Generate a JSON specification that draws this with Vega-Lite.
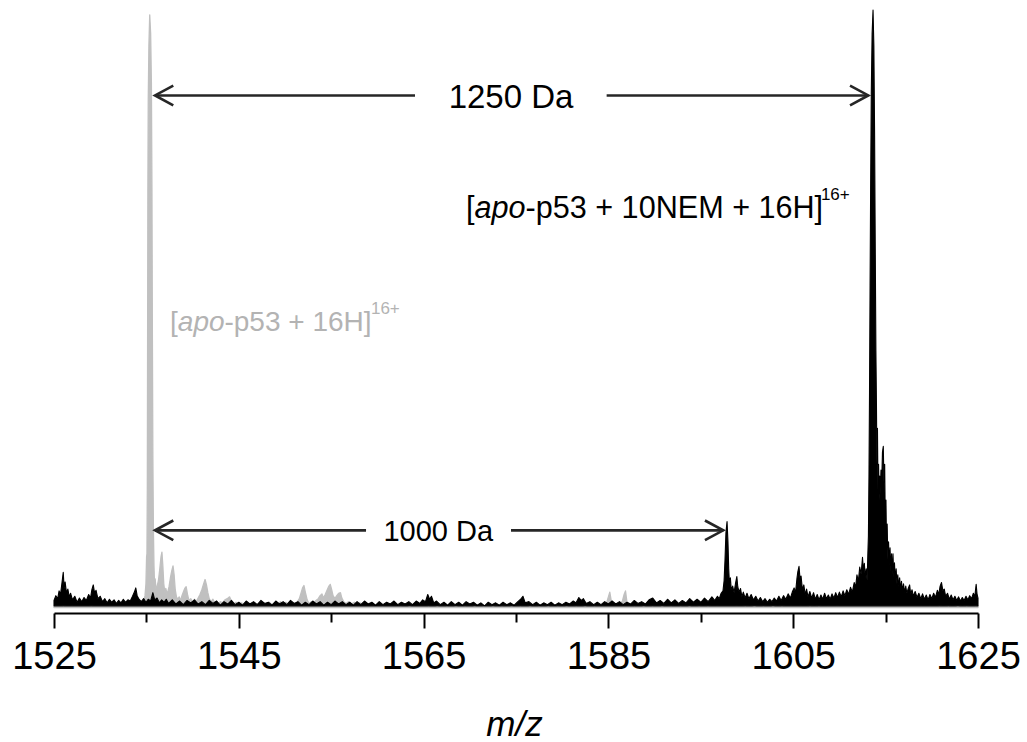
{
"$schema": "https://vega.github.io/schema/vega-lite/v6.json",
"width": 924, "height": 603,
"autosize": {"type": "none"},
"padding": {"left": 54, "top": 10, "right": 49, "bottom": 129},
"background": "white",
"config": {"view": {"stroke": null}},
"datasets": {
"black": [
{"x":1525.0,"y":1.2},{"x":1525.2,"y":2.0},{"x":1525.4,"y":1.5},{"x":1525.55,"y":2.8},{"x":1525.7,"y":2.2},{"x":1525.85,"y":4.0},{"x":1526.0,"y":5.9},{"x":1526.1,"y":3.2},{"x":1526.2,"y":4.3},{"x":1526.35,"y":2.5},{"x":1526.5,"y":3.1},{"x":1526.65,"y":1.8},{"x":1526.8,"y":2.4},{"x":1527.0,"y":1.3},{"x":1527.25,"y":1.9},{"x":1527.5,"y":0.9},{"x":1527.75,"y":1.6},{"x":1528.0,"y":1.0},{"x":1528.25,"y":1.7},{"x":1528.5,"y":1.2},{"x":1528.75,"y":2.2},{"x":1528.95,"y":1.6},{"x":1529.1,"y":3.0},{"x":1529.25,"y":3.8},{"x":1529.4,"y":2.4},{"x":1529.55,"y":2.9},{"x":1529.75,"y":1.5},{"x":1530.0,"y":1.9},{"x":1530.25,"y":1.0},{"x":1530.5,"y":1.5},{"x":1530.75,"y":0.8},{"x":1531.0,"y":1.4},{"x":1531.25,"y":0.9},{"x":1531.5,"y":1.3},{"x":1531.75,"y":0.7},{"x":1532.0,"y":1.2},{"x":1532.25,"y":0.8},{"x":1532.5,"y":1.4},{"x":1532.75,"y":0.9},{"x":1533.0,"y":1.3},{"x":1533.25,"y":1.1},{"x":1533.5,"y":1.9},{"x":1533.7,"y":2.6},{"x":1533.85,"y":3.3},{"x":1534.0,"y":2.0},{"x":1534.2,"y":1.4},{"x":1534.45,"y":1.0},{"x":1534.7,"y":1.5},{"x":1534.95,"y":0.9},{"x":1535.2,"y":1.4},{"x":1535.45,"y":1.1},{"x":1535.7,"y":2.5},{"x":1535.9,"y":1.3},{"x":1536.15,"y":1.6},{"x":1536.4,"y":0.8},{"x":1536.65,"y":1.3},{"x":1536.9,"y":0.9},{"x":1537.15,"y":1.4},
{"x":1537.4,"y":0.7},{"x":1537.8,"y":1.3},{"x":1538.2,"y":0.6},{"x":1538.6,"y":1.1},{"x":1539.0,"y":0.5},{"x":1539.4,"y":1.2},{"x":1539.8,"y":0.8},{"x":1540.2,"y":1.3},{"x":1540.6,"y":0.6},{"x":1541.0,"y":1.0},{"x":1541.4,"y":0.5},{"x":1541.8,"y":1.2},{"x":1542.2,"y":0.7},{"x":1542.6,"y":1.1},{"x":1543.0,"y":0.4},{"x":1543.4,"y":1.0},{"x":1543.8,"y":0.6},{"x":1544.2,"y":1.2},{"x":1544.6,"y":0.5},{"x":1545.0,"y":0.9},{"x":1545.4,"y":0.4},{"x":1545.8,"y":1.1},{"x":1546.2,"y":0.6},{"x":1546.6,"y":1.0},{"x":1547.0,"y":0.5},{"x":1547.4,"y":1.2},{"x":1547.8,"y":0.7},{"x":1548.2,"y":0.9},{"x":1548.6,"y":0.4},{"x":1549.0,"y":1.1},{"x":1549.4,"y":0.6},{"x":1549.8,"y":1.0},{"x":1550.2,"y":0.5},{"x":1550.6,"y":1.2},{"x":1551.0,"y":0.7},{"x":1551.4,"y":1.0},{"x":1551.8,"y":0.4},{"x":1552.2,"y":0.9},{"x":1552.6,"y":0.5},{"x":1553.0,"y":1.1},{"x":1553.4,"y":0.6},{"x":1553.8,"y":1.0},{"x":1554.2,"y":0.4},{"x":1554.6,"y":0.9},{"x":1555.0,"y":0.5},{"x":1555.4,"y":1.1},{"x":1555.8,"y":0.6},{"x":1556.2,"y":1.0},{"x":1556.6,"y":0.5},{"x":1557.0,"y":0.9},{"x":1557.4,"y":0.4},{"x":1557.8,"y":1.0},{"x":1558.2,"y":0.5},{"x":1558.6,"y":1.1},{"x":1559.0,"y":0.6},{"x":1559.4,"y":0.9},{"x":1559.8,"y":0.4},{"x":1560.2,"y":1.0},{"x":1560.6,"y":0.5},{"x":1561.0,"y":0.9},{"x":1561.4,"y":0.6},{"x":1561.8,"y":1.1},{"x":1562.2,"y":0.5},{"x":1562.6,"y":0.9},{"x":1563.0,"y":0.6},{"x":1563.4,"y":1.0},{"x":1563.8,"y":0.5},{"x":1564.2,"y":1.1},{"x":1564.6,"y":0.7},{"x":1564.9,"y":1.3},{"x":1565.2,"y":1.0},{"x":1565.45,"y":2.2},{"x":1565.65,"y":1.4},{"x":1565.85,"y":1.9},{"x":1566.1,"y":0.8},{"x":1566.4,"y":1.1},{"x":1566.8,"y":0.5},{"x":1567.2,"y":0.9},{"x":1567.6,"y":0.4},{"x":1568.0,"y":1.0},{"x":1568.4,"y":0.5},{"x":1568.8,"y":0.9},{"x":1569.2,"y":0.4},{"x":1569.6,"y":1.0},{"x":1570.0,"y":0.6},{"x":1570.4,"y":0.9},{"x":1570.8,"y":0.4},{"x":1571.2,"y":0.8},{"x":1571.6,"y":0.3},{"x":1572.0,"y":0.9},{"x":1572.4,"y":0.5},{"x":1572.8,"y":0.8},{"x":1573.2,"y":0.4},{"x":1573.6,"y":0.9},{"x":1574.0,"y":0.5},{"x":1574.4,"y":0.8},{"x":1574.8,"y":0.4},{"x":1575.2,"y":1.0},{"x":1575.5,"y":1.4},{"x":1575.75,"y":1.9},{"x":1576.0,"y":0.8},{"x":1576.4,"y":1.0},{"x":1576.8,"y":0.5},{"x":1577.2,"y":0.9},{"x":1577.6,"y":0.4},{"x":1578.0,"y":0.8},{"x":1578.4,"y":0.5},{"x":1578.8,"y":0.9},{"x":1579.2,"y":0.4},{"x":1579.6,"y":0.8},{"x":1580.0,"y":0.5},{"x":1580.4,"y":0.9},{"x":1580.8,"y":0.6},{"x":1581.2,"y":1.1},{"x":1581.5,"y":0.8},{"x":1581.8,"y":1.7},{"x":1582.05,"y":1.2},{"x":1582.3,"y":1.5},{"x":1582.6,"y":0.7},{"x":1583.0,"y":1.0},{"x":1583.4,"y":0.5},{"x":1583.8,"y":0.9},{"x":1584.2,"y":0.5},{"x":1584.6,"y":1.0},{"x":1585.0,"y":0.6},{"x":1585.4,"y":1.1},{"x":1585.8,"y":0.6},{"x":1586.2,"y":1.0},{"x":1586.6,"y":0.5},{"x":1587.0,"y":0.9},{"x":1587.4,"y":0.6},{"x":1587.8,"y":1.2},{"x":1588.2,"y":0.7},{"x":1588.6,"y":1.0},{"x":1589.0,"y":0.6},{"x":1589.4,"y":1.3},{"x":1589.8,"y":1.6},{"x":1590.2,"y":0.8},{"x":1590.6,"y":1.2},{"x":1591.0,"y":0.7},{"x":1591.4,"y":1.4},{"x":1591.8,"y":0.8},{"x":1592.2,"y":1.3},{"x":1592.6,"y":0.7},{"x":1593.0,"y":1.2},{"x":1593.4,"y":0.8},{"x":1593.8,"y":1.5},{"x":1594.2,"y":0.9},{"x":1594.6,"y":1.4},{"x":1595.0,"y":0.9},{"x":1595.4,"y":1.6},{"x":1595.8,"y":1.0},{"x":1596.2,"y":1.8},{"x":1596.5,"y":1.2},{"x":1596.8,"y":1.9},{"x":1597.0,"y":1.5},{"x":1597.2,"y":2.4},
{"x":1597.4,"y":2.8},{"x":1597.52,"y":4.5},{"x":1597.62,"y":8.0},{"x":1597.72,"y":12.5},{"x":1597.84,"y":14.4},{"x":1597.94,"y":11.0},{"x":1598.02,"y":6.5},{"x":1598.1,"y":4.0},{"x":1598.2,"y":5.0},{"x":1598.3,"y":3.0},{"x":1598.45,"y":3.6},{"x":1598.6,"y":2.5},{"x":1598.75,"y":4.0},{"x":1598.9,"y":5.2},{"x":1599.0,"y":3.5},{"x":1599.15,"y":2.6},{"x":1599.3,"y":3.2},{"x":1599.45,"y":1.8},{"x":1599.6,"y":2.6},{"x":1599.8,"y":1.6},{"x":1600.0,"y":2.4},{"x":1600.2,"y":1.5},{"x":1600.45,"y":2.2},{"x":1600.7,"y":1.3},{"x":1600.95,"y":1.9},{"x":1601.2,"y":1.1},{"x":1601.45,"y":1.7},{"x":1601.7,"y":1.0},{"x":1601.95,"y":1.5},{"x":1602.2,"y":0.9},{"x":1602.45,"y":1.4},{"x":1602.7,"y":1.0},{"x":1602.95,"y":1.6},{"x":1603.2,"y":1.1},{"x":1603.45,"y":1.9},{"x":1603.7,"y":1.2},{"x":1603.95,"y":2.0},{"x":1604.2,"y":1.4},{"x":1604.45,"y":2.3},{"x":1604.7,"y":1.6},{"x":1604.9,"y":2.6},{"x":1605.1,"y":3.3},{"x":1605.25,"y":2.5},{"x":1605.4,"y":4.8},{"x":1605.5,"y":6.0},{"x":1605.63,"y":6.9},{"x":1605.75,"y":4.6},{"x":1605.85,"y":5.3},{"x":1606.0,"y":3.0},{"x":1606.15,"y":3.8},{"x":1606.3,"y":2.2},{"x":1606.45,"y":3.1},{"x":1606.6,"y":1.8},{"x":1606.8,"y":2.7},{"x":1607.0,"y":1.6},{"x":1607.2,"y":2.5},{"x":1607.4,"y":1.4},{"x":1607.6,"y":2.2},{"x":1607.8,"y":1.3},{"x":1608.0,"y":2.1},{"x":1608.2,"y":1.4},{"x":1608.4,"y":2.4},{"x":1608.6,"y":1.5},{"x":1608.8,"y":2.1},{"x":1609.0,"y":1.4},{"x":1609.2,"y":2.3},{"x":1609.4,"y":1.6},{"x":1609.6,"y":2.5},{"x":1609.8,"y":1.7},{"x":1610.0,"y":2.6},{"x":1610.2,"y":1.8},{"x":1610.4,"y":2.8},{"x":1610.6,"y":2.0},{"x":1610.8,"y":3.0},{"x":1611.0,"y":2.2},{"x":1611.2,"y":3.4},{"x":1611.4,"y":2.6},{"x":1611.6,"y":4.2},{"x":1611.75,"y":3.4},{"x":1611.9,"y":5.5},{"x":1612.05,"y":4.4},{"x":1612.2,"y":6.8},{"x":1612.35,"y":5.6},{"x":1612.5,"y":8.4},{"x":1612.6,"y":6.2},{"x":1612.7,"y":7.4},{"x":1612.8,"y":5.0},{"x":1612.9,"y":6.5},{"x":1613.0,"y":4.5},{"x":1613.08,"y":9.0},{"x":1613.14,"y":12},{"x":1613.2,"y":22},{"x":1613.26,"y":36},{"x":1613.32,"y":54},{"x":1613.38,"y":70},{"x":1613.45,"y":86},{"x":1613.54,"y":96},{"x":1613.64,"y":100},{"x":1613.73,"y":94},{"x":1613.81,"y":79},{"x":1613.88,"y":60},{"x":1613.95,"y":43},{"x":1614.01,"y":34},{"x":1614.06,"y":24},{"x":1614.12,"y":30},{"x":1614.18,"y":19},{"x":1614.24,"y":24},{"x":1614.3,"y":18},{"x":1614.36,"y":22},{"x":1614.42,"y":19},{"x":1614.5,"y":23},{"x":1614.58,"y":21},{"x":1614.66,"y":26},{"x":1614.75,"y":27},{"x":1614.82,"y":21},{"x":1614.9,"y":24},{"x":1614.97,"y":14},{"x":1615.04,"y":18},{"x":1615.1,"y":10},{"x":1615.17,"y":14},{"x":1615.24,"y":8},{"x":1615.32,"y":11},{"x":1615.4,"y":7},{"x":1615.48,"y":10},{"x":1615.56,"y":6},{"x":1615.64,"y":9},{"x":1615.72,"y":5.5},{"x":1615.8,"y":9},{"x":1615.88,"y":5},{"x":1615.96,"y":7.5},{"x":1616.05,"y":4.5},{"x":1616.14,"y":6.5},{"x":1616.23,"y":4},{"x":1616.32,"y":5.5},{"x":1616.42,"y":3.5},{"x":1616.52,"y":5},{"x":1616.62,"y":3},{"x":1616.72,"y":4.4},{"x":1616.82,"y":2.8},{"x":1616.94,"y":4.0},{"x":1617.06,"y":2.5},{"x":1617.18,"y":3.6},{"x":1617.3,"y":2.4},{"x":1617.45,"y":3.2},{"x":1617.6,"y":3.8},{"x":1617.72,"y":2.2},{"x":1617.86,"y":3.0},{"x":1618.0,"y":1.9},{"x":1618.2,"y":2.7},{"x":1618.4,"y":1.7},{"x":1618.6,"y":2.4},{"x":1618.8,"y":1.5},{"x":1619.0,"y":2.3},{"x":1619.2,"y":1.4},{"x":1619.4,"y":2.1},{"x":1619.6,"y":1.3},{"x":1619.8,"y":2.2},{"x":1620.0,"y":1.5},{"x":1620.2,"y":2.4},{"x":1620.4,"y":1.7},{"x":1620.6,"y":2.9},{"x":1620.75,"y":2.2},{"x":1620.9,"y":3.6},{"x":1621.05,"y":4.2},{"x":1621.2,"y":2.8},{"x":1621.35,"y":3.1},{"x":1621.5,"y":1.9},{"x":1621.7,"y":2.4},{"x":1621.9,"y":1.4},{"x":1622.1,"y":2.1},{"x":1622.3,"y":1.3},{"x":1622.5,"y":1.9},{"x":1622.7,"y":1.2},{"x":1622.9,"y":1.8},{"x":1623.1,"y":1.1},{"x":1623.3,"y":1.7},{"x":1623.5,"y":1.2},{"x":1623.7,"y":1.9},{"x":1623.9,"y":1.3},{"x":1624.1,"y":2.0},{"x":1624.3,"y":1.5},{"x":1624.5,"y":2.4},{"x":1624.65,"y":1.8},{"x":1624.8,"y":3.9},{"x":1624.9,"y":2.2},{"x":1625.0,"y":1.6}
],
"grey": [
{"x":1525.0,"y":0.2},{"x":1525.5,"y":0.5},{"x":1526.0,"y":0.1},{"x":1526.5,"y":0.4},{"x":1527.0,"y":0.2},{"x":1527.5,"y":0.6},{"x":1528.0,"y":0.3},{"x":1528.5,"y":0.5},{"x":1529.0,"y":0.1},{"x":1529.5,"y":0.4},{"x":1530.0,"y":0.3},{"x":1530.5,"y":0.6},{"x":1531.0,"y":0.2},{"x":1531.5,"y":0.5},{"x":1532.0,"y":0.3},{"x":1532.5,"y":0.7},{"x":1533.0,"y":0.4},{"x":1533.5,"y":0.6},{"x":1534.0,"y":0.5},{"x":1534.3,"y":0.8},
{"x":1534.5,"y":0.6},{"x":1534.7,"y":1.0},{"x":1534.85,"y":2.0},{"x":1534.95,"y":4.0},{"x":1535.02,"y":8.5},{"x":1535.06,"y":9.0},{"x":1535.1,"y":20},{"x":1535.13,"y":45},{"x":1535.16,"y":70},{"x":1535.2,"y":85},{"x":1535.27,"y":94},{"x":1535.36,"y":99.2},{"x":1535.46,"y":96},{"x":1535.54,"y":88},{"x":1535.6,"y":70},{"x":1535.65,"y":45},{"x":1535.7,"y":25},{"x":1535.76,"y":13},{"x":1535.82,"y":7},{"x":1535.88,"y":4.0},{"x":1535.95,"y":4.8},{"x":1536.05,"y":2.8},{"x":1536.15,"y":3.5},{"x":1536.3,"y":4.5},{"x":1536.45,"y":6.5},{"x":1536.58,"y":8.5},{"x":1536.68,"y":9.3},{"x":1536.78,"y":7},{"x":1536.88,"y":4},{"x":1537.0,"y":2.5},{"x":1537.1,"y":3.2},{"x":1537.25,"y":2.2},{"x":1537.45,"y":3.5},{"x":1537.6,"y":5},{"x":1537.75,"y":6.2},{"x":1537.88,"y":7.0},{"x":1538.0,"y":5.5},{"x":1538.12,"y":3.0},{"x":1538.25,"y":1.8},{"x":1538.4,"y":1.4},{"x":1538.55,"y":1.8},{"x":1538.7,"y":1.2},{"x":1538.85,"y":2.0},{"x":1539.0,"y":2.6},{"x":1539.15,"y":3.2},{"x":1539.3,"y":3.5},{"x":1539.45,"y":2.2},{"x":1539.6,"y":1.2},{"x":1539.8,"y":1.5},{"x":1540.0,"y":0.9},{"x":1540.2,"y":1.4},{"x":1540.4,"y":1.0},{"x":1540.6,"y":1.6},{"x":1540.8,"y":2.2},{"x":1541.0,"y":3.0},{"x":1541.2,"y":4.0},{"x":1541.35,"y":4.7},{"x":1541.5,"y":3.8},{"x":1541.65,"y":2.5},{"x":1541.8,"y":1.5},{"x":1542.0,"y":1.0},{"x":1542.2,"y":1.4},{"x":1542.4,"y":0.8},{"x":1542.6,"y":1.1},{"x":1542.8,"y":0.7},{"x":1543.0,"y":1.0},{"x":1543.2,"y":0.8},{"x":1543.5,"y":1.3},{"x":1543.75,"y":1.5},{"x":1544.0,"y":1.8},{"x":1544.2,"y":1.1},{"x":1544.45,"y":0.6},{"x":1544.7,"y":0.9},{"x":1545.0,"y":0.5},{"x":1545.3,"y":0.8},{"x":1545.6,"y":0.4},{"x":1545.9,"y":0.7},{"x":1546.2,"y":0.5},{"x":1546.5,"y":0.8},{"x":1546.8,"y":0.4},{"x":1547.1,"y":0.7},{"x":1547.4,"y":0.5},{"x":1547.7,"y":0.8},{"x":1548.0,"y":0.5},{"x":1548.3,"y":0.9},{"x":1548.6,"y":0.5},{"x":1548.9,"y":0.8},{"x":1549.2,"y":0.6},{"x":1549.5,"y":1.0},{"x":1549.8,"y":0.6},{"x":1550.1,"y":0.9},{"x":1550.4,"y":0.5},{"x":1550.7,"y":0.8},{"x":1551.0,"y":0.6},{"x":1551.3,"y":0.9},{"x":1551.55,"y":1.5},{"x":1551.75,"y":2.5},{"x":1551.9,"y":3.3},{"x":1552.05,"y":3.7},{"x":1552.2,"y":2.6},{"x":1552.4,"y":1.3},{"x":1552.6,"y":0.7},{"x":1552.85,"y":1.0},{"x":1553.1,"y":0.7},{"x":1553.35,"y":1.2},{"x":1553.6,"y":1.5},{"x":1553.8,"y":2.0},{"x":1554.0,"y":2.3},{"x":1554.15,"y":1.6},{"x":1554.35,"y":2.2},{"x":1554.55,"y":2.9},{"x":1554.75,"y":3.6},{"x":1554.9,"y":3.9},{"x":1555.05,"y":3.0},{"x":1555.2,"y":2.0},{"x":1555.4,"y":1.5},{"x":1555.6,"y":2.0},{"x":1555.8,"y":2.4},{"x":1556.0,"y":2.5},{"x":1556.15,"y":1.6},{"x":1556.35,"y":1.0},{"x":1556.6,"y":0.7},{"x":1556.9,"y":1.0},{"x":1557.2,"y":0.6},{"x":1557.5,"y":0.9},{"x":1557.8,"y":0.5},{"x":1558.1,"y":0.8},{"x":1558.4,"y":0.5},{"x":1558.7,"y":0.7},
{"x":1559.0,"y":0.4},{"x":1559.5,"y":0.2},{"x":1560.0,"y":0.5},{"x":1560.5,"y":0.1},{"x":1561.0,"y":0.4},{"x":1561.5,"y":0.2},{"x":1562.0,"y":0.5},{"x":1562.5,"y":0.1},{"x":1563.0,"y":0.3},{"x":1563.5,"y":0.0},{"x":1564.0,"y":0.4},{"x":1564.5,"y":0.2},{"x":1565.0,"y":0.5},{"x":1565.5,"y":0.1},{"x":1566.0,"y":0.3},{"x":1566.5,"y":0.0},{"x":1567.0,"y":0.4},{"x":1567.5,"y":0.1},{"x":1568.0,"y":0.3},{"x":1568.5,"y":0.0},{"x":1569.0,"y":0.3},{"x":1569.5,"y":0.1},{"x":1570.0,"y":0.4},{"x":1570.5,"y":0.0},{"x":1571.0,"y":0.3},{"x":1571.5,"y":0.1},{"x":1572.0,"y":0.4},{"x":1572.5,"y":0.0},{"x":1573.0,"y":0.3},{"x":1573.5,"y":0.1},{"x":1574.0,"y":0.4},{"x":1574.5,"y":0.0},{"x":1575.0,"y":0.3},{"x":1575.5,"y":0.1},{"x":1576.0,"y":0.4},{"x":1576.5,"y":0.0},{"x":1577.0,"y":0.3},{"x":1577.5,"y":0.1},{"x":1578.0,"y":0.3},{"x":1578.5,"y":0.0},{"x":1579.0,"y":0.4},{"x":1579.5,"y":0.1},{"x":1580.0,"y":0.3},{"x":1580.5,"y":0.0},{"x":1581.0,"y":0.4},{"x":1581.5,"y":0.1},{"x":1582.0,"y":0.3},{"x":1582.5,"y":0.0},{"x":1583.0,"y":0.4},{"x":1583.5,"y":0.1},{"x":1584.0,"y":0.3},{"x":1584.5,"y":0.2},
{"x":1584.8,"y":0.8},{"x":1585.0,"y":1.8},{"x":1585.15,"y":2.6},{"x":1585.3,"y":1.2},{"x":1585.6,"y":0.6},{"x":1586.0,"y":0.5},{"x":1586.5,"y":1.0},{"x":1586.7,"y":2.2},{"x":1586.85,"y":2.8},{"x":1587.0,"y":1.0},{"x":1587.3,"y":0.5},
{"x":1587.8,"y":0.1},{"x":1588.3,"y":0.4},{"x":1588.8,"y":0.0},{"x":1589.3,"y":0.3},{"x":1589.8,"y":0.1},{"x":1590.3,"y":0.4},{"x":1590.8,"y":0.0},{"x":1591.3,"y":0.3},{"x":1591.8,"y":0.1},{"x":1592.3,"y":0.4},{"x":1592.8,"y":0.1},{"x":1593.3,"y":0.3},{"x":1593.8,"y":0.0},{"x":1594.3,"y":0.4},{"x":1594.8,"y":0.1},{"x":1595.3,"y":0.3},{"x":1595.8,"y":0.1},{"x":1596.3,"y":0.4},{"x":1596.8,"y":0.2},{"x":1597.3,"y":0.5},{"x":1597.8,"y":0.3},{"x":1598.3,"y":0.5},{"x":1598.8,"y":0.2},{"x":1599.3,"y":0.4},{"x":1599.8,"y":0.1},{"x":1600.3,"y":0.3},{"x":1600.8,"y":0.0},{"x":1601.3,"y":0.3},{"x":1601.8,"y":0.1},{"x":1602.3,"y":0.4},{"x":1602.8,"y":0.0},{"x":1603.3,"y":0.3},{"x":1603.8,"y":0.1},{"x":1604.3,"y":0.4},{"x":1604.8,"y":0.2},{"x":1605.3,"y":0.5},{"x":1605.8,"y":0.2},{"x":1606.3,"y":0.4},{"x":1606.8,"y":0.1},{"x":1607.3,"y":0.3},{"x":1607.8,"y":0.1},{"x":1608.3,"y":0.4},{"x":1608.8,"y":0.2},{"x":1609.3,"y":0.4},{"x":1609.8,"y":0.2},{"x":1610.3,"y":0.5},{"x":1610.8,"y":0.3},{"x":1611.3,"y":0.6},{"x":1611.8,"y":0.4},{"x":1612.3,"y":0.7},{"x":1612.8,"y":0.5},
{"x":1613.0,"y":0.6},{"x":1613.3,"y":1.5},{"x":1613.5,"y":3.5},{"x":1613.64,"y":9.0},{"x":1613.75,"y":4.0},{"x":1613.9,"y":1.2},{"x":1614.1,"y":0.8},{"x":1614.3,"y":0.9},{"x":1614.6,"y":1.5},{"x":1614.8,"y":0.7},
{"x":1615.3,"y":0.9},{"x":1615.8,"y":0.5},{"x":1616.3,"y":0.8},{"x":1616.8,"y":0.4},{"x":1617.3,"y":0.7},{"x":1617.8,"y":0.3},{"x":1618.3,"y":0.6},{"x":1618.8,"y":0.2},{"x":1619.3,"y":0.5},{"x":1619.8,"y":0.2},{"x":1620.3,"y":0.5},{"x":1620.8,"y":0.1},{"x":1621.3,"y":0.4},{"x":1621.8,"y":0.1},{"x":1622.3,"y":0.4},{"x":1622.8,"y":0.0},{"x":1623.3,"y":0.3},{"x":1623.8,"y":0.1},{"x":1624.3,"y":0.4},{"x":1624.8,"y":0.1},{"x":1625.0,"y":0.3}
],
"arrows": [
{"seg":"a1","o":1,"x":1535.93,"y":85.7},{"seg":"a1","o":2,"x":1564.07,"y":85.7},
{"seg":"a2","o":1,"x":1584.81,"y":85.7},{"seg":"a2","o":2,"x":1613.13,"y":85.7},
{"seg":"h1","o":1,"x":1537.91,"y":87.35},{"seg":"h1","o":2,"x":1535.93,"y":85.7},{"seg":"h1","o":3,"x":1537.91,"y":84.05},
{"seg":"h2","o":1,"x":1611.15,"y":87.35},{"seg":"h2","o":2,"x":1613.13,"y":85.7},{"seg":"h2","o":3,"x":1611.15,"y":84.05},
{"seg":"b1","o":1,"x":1535.93,"y":12.93},{"seg":"b1","o":2,"x":1558.77,"y":12.93},
{"seg":"b2","o":1,"x":1574.46,"y":12.93},{"seg":"b2","o":2,"x":1597.43,"y":12.93},
{"seg":"h3","o":1,"x":1537.91,"y":14.58},{"seg":"h3","o":2,"x":1535.93,"y":12.93},{"seg":"h3","o":3,"x":1537.91,"y":11.28},
{"seg":"h4","o":1,"x":1595.45,"y":14.58},{"seg":"h4","o":2,"x":1597.43,"y":12.93},{"seg":"h4","o":3,"x":1595.45,"y":11.28}
],
"ann": [
{"k":"big","x":1574.46,"y":83.67,"t":"1250 Da"},
{"k":"mid","x":1566.59,"y":11.1,"t":"1000 Da"},
{"k":"bn","x":1569.59,"y":65.23,"t":"["},
{"k":"bn","x":1576.03,"y":65.23,"t":"-p53 + 10NEM + 16H]"},
{"k":"bi","x":1570.51,"y":65.23,"t":"apo"},
{"k":"bs","x":1608.0,"y":68.2,"t":"16+"},
{"k":"gn","x":1537.55,"y":46.24,"t":"["},
{"k":"gn","x":1543.45,"y":46.24,"t":"-p53 + 16H]"},
{"k":"gi","x":1538.4,"y":46.24,"t":"apo"},
{"k":"gs","x":1559.3,"y":49.1,"t":"16+"}
]
},
"encoding": {
"x": {"field": "x", "type": "quantitative",
  "scale": {"domain": [1525, 1625], "nice": false, "zero": false},
  "axis": {"title": "m/z", "values": [1525,1535,1545,1555,1565,1575,1585,1595,1605,1615,1625],
    "format": "d", "labelExpr": "(datum.value - 1525) % 20 === 0 ? datum.label : ''",
    "grid": false, "domainColor": "black", "domainWidth": 2, "tickColor": "black", "tickWidth": 2,
    "tickSize": {"condition": {"test": "(datum.value - 1525) % 20 === 0", "value": 15}, "value": 9},
    "labelFont": "Liberation Sans", "labelFontSize": 38, "labelColor": "black", "labelBaseline": "alphabetic",
    "labelPadding": 40, "labelFlush": false, "labelOverlap": false, "labelBound": false,
    "titleFont": "Liberation Sans", "titleFontSize": 35, "titleFontStyle": "italic", "titleFontWeight": "normal",
    "titleColor": "black", "titleBaseline": "alphabetic", "titleAlign": "center", "titleX": 460, "titleY": 122}},
"y": {"field": "y", "type": "quantitative",
  "scale": {"domain": [-0.9, 100], "nice": false, "zero": false}, "axis": null}
},
"layer": [
{"data": {"name": "grey"}, "mark": {"type": "area", "color": "#c0c0c0", "stroke": "#c0c0c0", "strokeWidth": 1.3, "strokeJoin": "round"},
 "encoding": {"y2": {"datum": 0}}},
{"data": {"name": "black"}, "mark": {"type": "area", "color": "black", "stroke": "black", "strokeWidth": 1.1, "strokeJoin": "round"},
 "encoding": {"y2": {"datum": 0.3}}},
{"data": {"name": "arrows"}, "mark": {"type": "line", "color": "#262626", "strokeWidth": 2.6, "strokeJoin": "miter"},
 "encoding": {"detail": {"field": "seg"}, "order": {"field": "o"}}},
{"data": {"name": "ann"}, "transform": [{"filter": "datum.k === 'big'"}],
 "mark": {"type": "text", "font": "Liberation Sans", "fontSize": 33, "color": "black", "align": "center", "baseline": "alphabetic"},
 "encoding": {"text": {"field": "t"}}},
{"data": {"name": "ann"}, "transform": [{"filter": "datum.k === 'mid'"}],
 "mark": {"type": "text", "font": "Liberation Sans", "fontSize": 29, "color": "black", "align": "center", "baseline": "alphabetic"},
 "encoding": {"text": {"field": "t"}}},
{"data": {"name": "ann"}, "transform": [{"filter": "datum.k === 'bn'"}],
 "mark": {"type": "text", "font": "Liberation Sans", "fontSize": 30.6, "color": "black", "align": "left", "baseline": "alphabetic"},
 "encoding": {"text": {"field": "t"}}},
{"data": {"name": "ann"}, "transform": [{"filter": "datum.k === 'bi'"}],
 "mark": {"type": "text", "font": "Liberation Sans", "fontSize": 30.6, "fontStyle": "italic", "color": "black", "align": "left", "baseline": "alphabetic"},
 "encoding": {"text": {"field": "t"}}},
{"data": {"name": "ann"}, "transform": [{"filter": "datum.k === 'bs'"}],
 "mark": {"type": "text", "font": "Liberation Sans", "fontSize": 17, "color": "black", "align": "left", "baseline": "alphabetic"},
 "encoding": {"text": {"field": "t"}}},
{"data": {"name": "ann"}, "transform": [{"filter": "datum.k === 'gn'"}],
 "mark": {"type": "text", "font": "Liberation Sans", "fontSize": 28, "color": "#b3b3b3", "align": "left", "baseline": "alphabetic"},
 "encoding": {"text": {"field": "t"}}},
{"data": {"name": "ann"}, "transform": [{"filter": "datum.k === 'gi'"}],
 "mark": {"type": "text", "font": "Liberation Sans", "fontSize": 28, "fontStyle": "italic", "color": "#b3b3b3", "align": "left", "baseline": "alphabetic"},
 "encoding": {"text": {"field": "t"}}},
{"data": {"name": "ann"}, "transform": [{"filter": "datum.k === 'gs'"}],
 "mark": {"type": "text", "font": "Liberation Sans", "fontSize": 17, "color": "#b3b3b3", "align": "left", "baseline": "alphabetic"},
 "encoding": {"text": {"field": "t"}}}
]
}
